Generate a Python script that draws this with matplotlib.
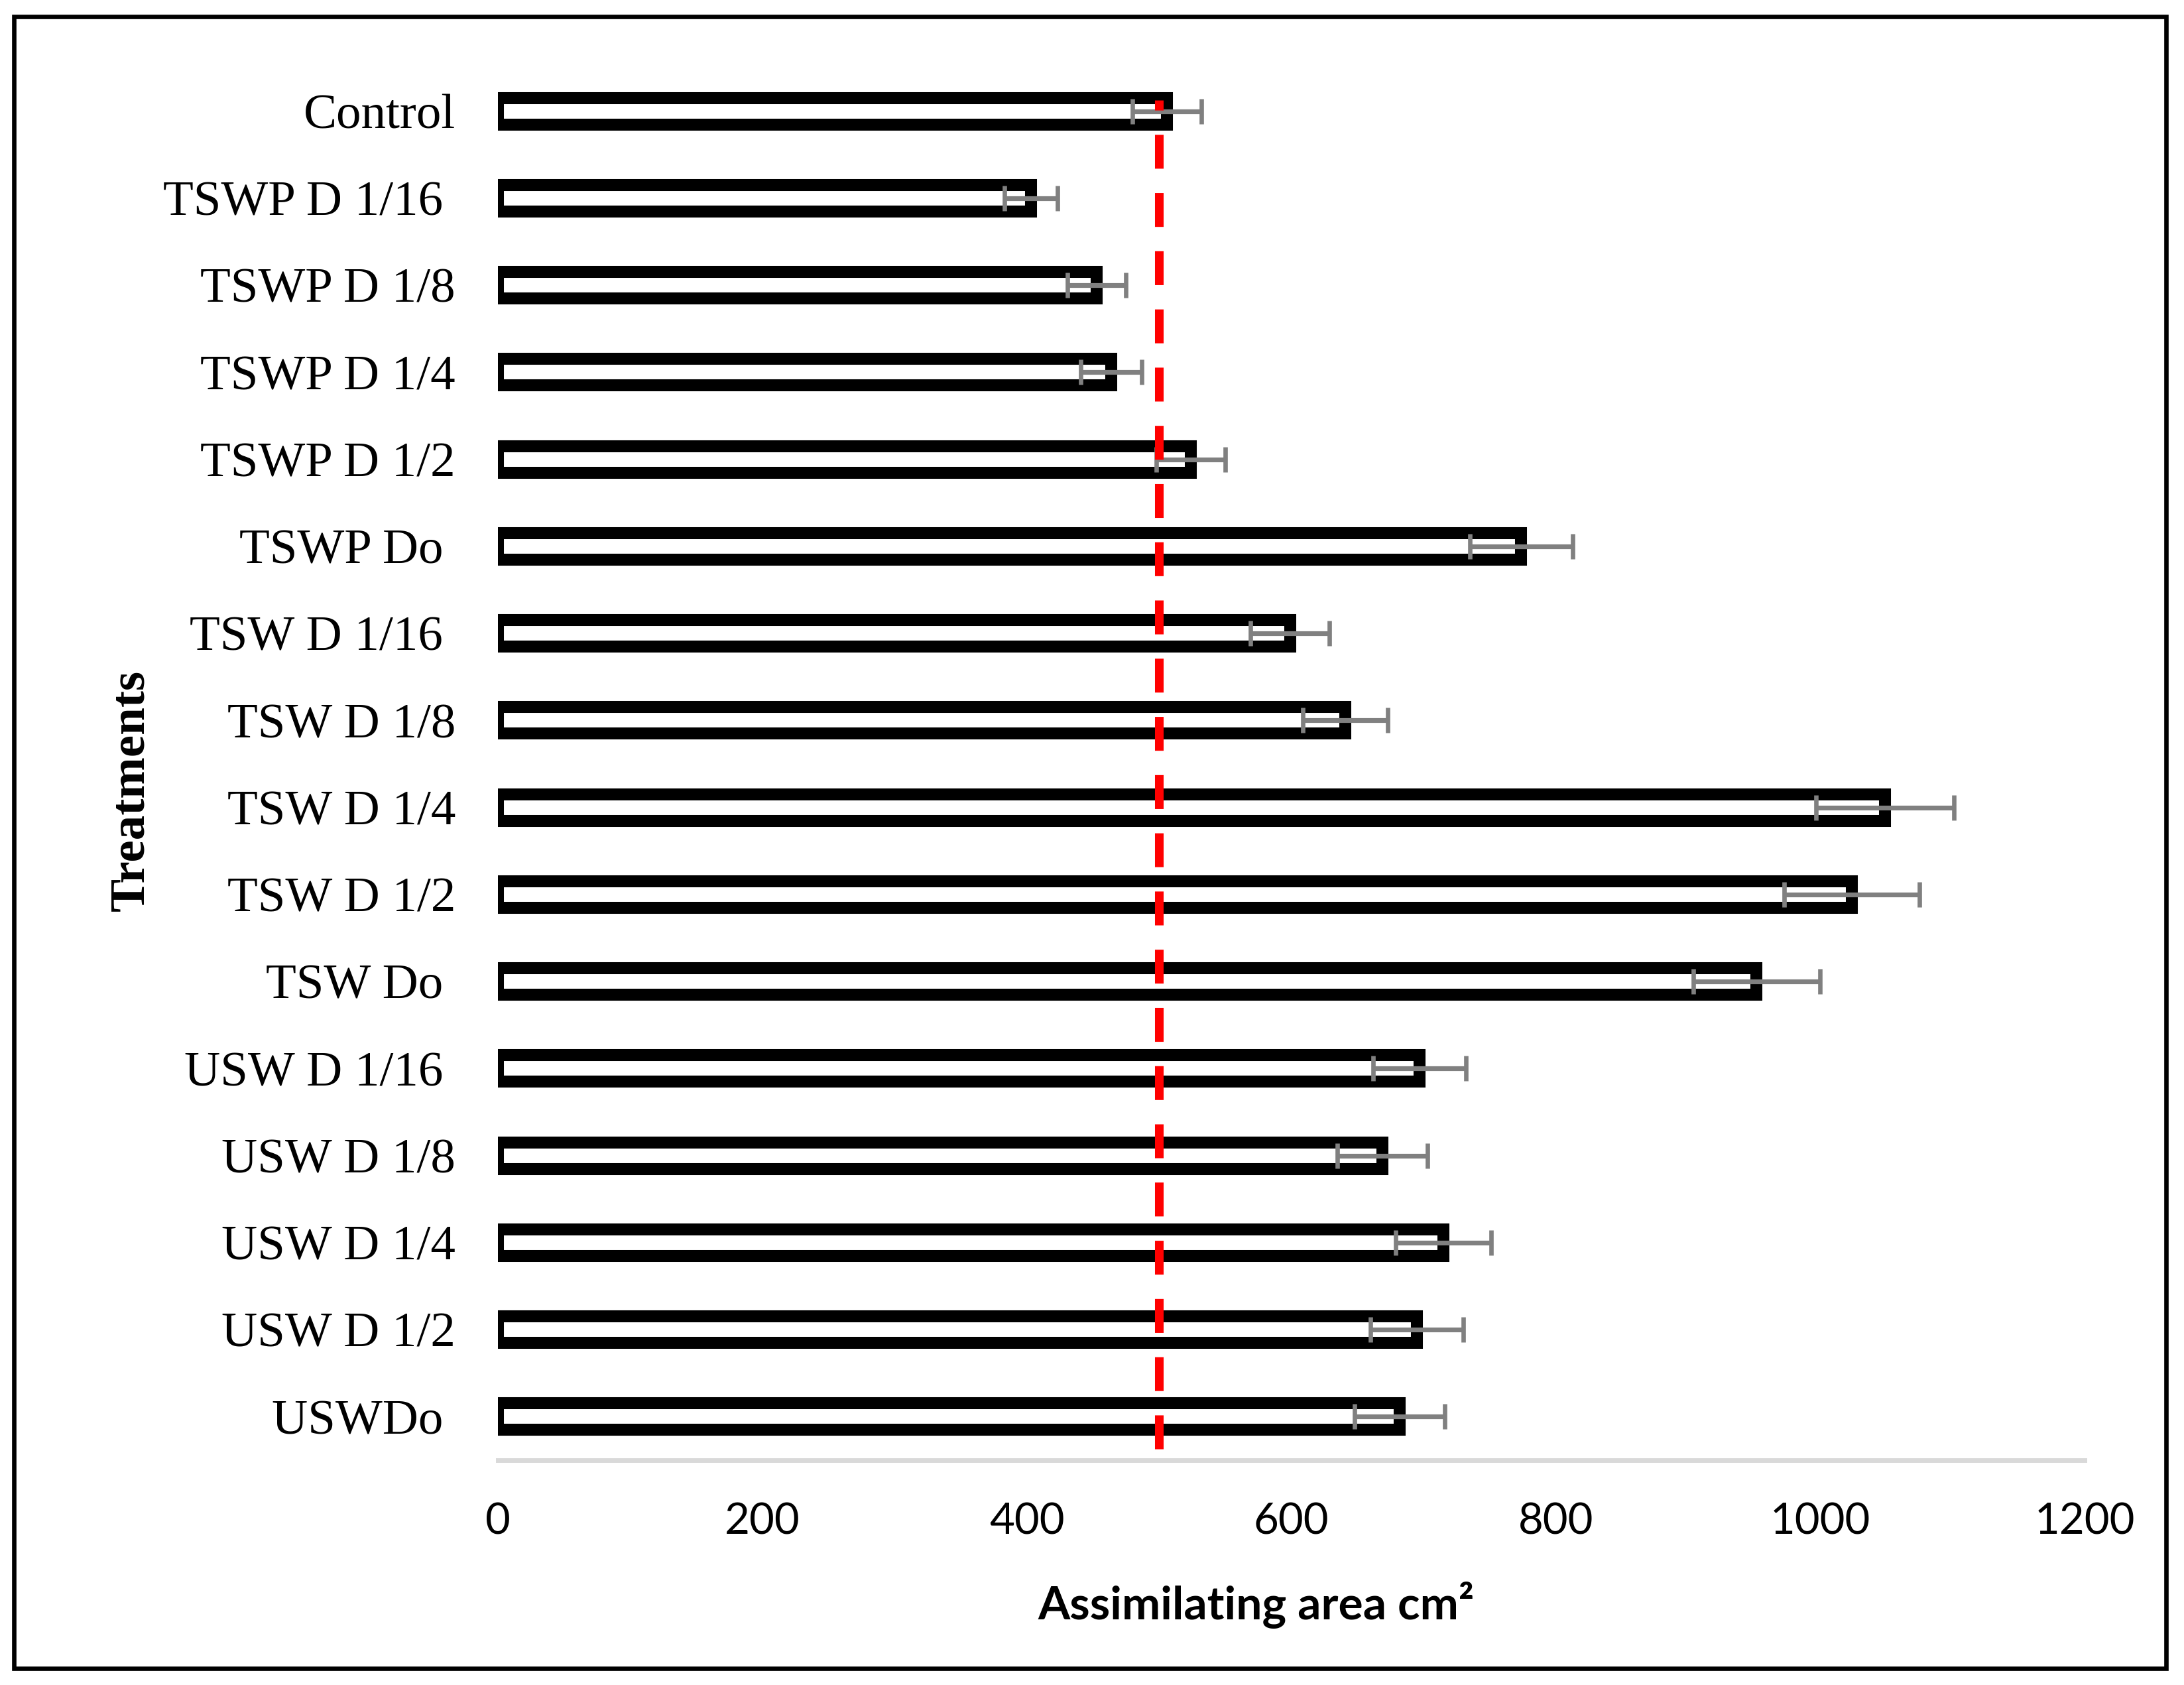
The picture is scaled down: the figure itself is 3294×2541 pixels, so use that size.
import numpy as np
import matplotlib
matplotlib.use("Agg")
import matplotlib.pyplot as plt
from matplotlib.patches import Rectangle

plt.rcParams['lines.scale_dashes'] = False

# categories listed from bottom to top (barh draws index 0 at the bottom)
treatments = ["USWDo ", "USW D 1/2", "USW D 1/4", "USW D 1/8", "USW D 1/16 ",
              "TSW Do ", "TSW D 1/2", "TSW D 1/4", "TSW D 1/8", "TSW D 1/16 ",
              "TSWP Do ", "TSWP D 1/2", "TSWP D 1/4", "TSWP D 1/8", "TSWP D 1/16 ",
              "Control"]
area = [682, 695, 715, 669, 697,
        952, 1024, 1049, 641, 599,
        774, 524, 464, 453, 403,
        506]
area_err = [34, 35, 36, 34, 35,
            48, 51, 52, 32, 30,
            39, 26, 23, 22, 20,
            26]
ref_value = 500
xticks = [0, 200, 400, 600, 800, 1000, 1200]

W, H = 3294, 2541
fig = plt.figure(figsize=(W / 200, H / 200), dpi=200)
ax = fig.add_axes([751 / W, 1 - 2202 / H, (3144 - 751) / W, 2100 / H])

y = np.arange(len(treatments))
ax.barh(y, area, height=0.305, color='white', edgecolor='black',
        linewidth=6.5, zorder=2)
ax.errorbar(area, y, xerr=area_err, fmt='none', ecolor='#808080',
            elinewidth=2.6, capsize=7, capthick=2.4, zorder=3)

# dashed reference line at the control level
ax.plot([ref_value, ref_value], [-0.373, 15.13], color='red', lw=4.7,
        dashes=(18.4, 13.2), solid_capstyle='butt', zorder=4, clip_on=False)

ax.set_xlim(0, 1200)
ax.set_ylim(-0.5, len(treatments) - 0.5)
ax.set_xticks(xticks)
ax.set_xticklabels([str(t) for t in xticks], family='Lato', fontsize=23.5)
ax.set_yticks(y)
ax.set_yticklabels(treatments, family='Liberation Serif', fontsize=27)
ax.tick_params(axis='y', length=0, pad=23)
ax.tick_params(axis='x', length=0, pad=23)

for s in ['top', 'right', 'left']:
    ax.spines[s].set_visible(False)
ax.spines['bottom'].set_color('#d9d9d9')
ax.spines['bottom'].set_linewidth(2.5)

fig.text(1894 / W, 1 - 2442 / H, "Assimilating area cm²", family='Lato',
         weight='bold', fontsize=25, ha='center', va='baseline')
fig.text(198 / W, 1 - 1192 / H, "Treatments", family='Liberation Serif',
         weight='bold', fontsize=27, rotation=90, ha='center', va='center')

# outer frame round the whole chart
fig.patches.append(Rectangle((21 / W, 1 - 2516 / H), (3267 - 21) / W,
                             (2516 - 25) / H, transform=fig.transFigure,
                             fill=False, edgecolor='black', linewidth=2.4))

fig.savefig("out.png", dpi=200)
